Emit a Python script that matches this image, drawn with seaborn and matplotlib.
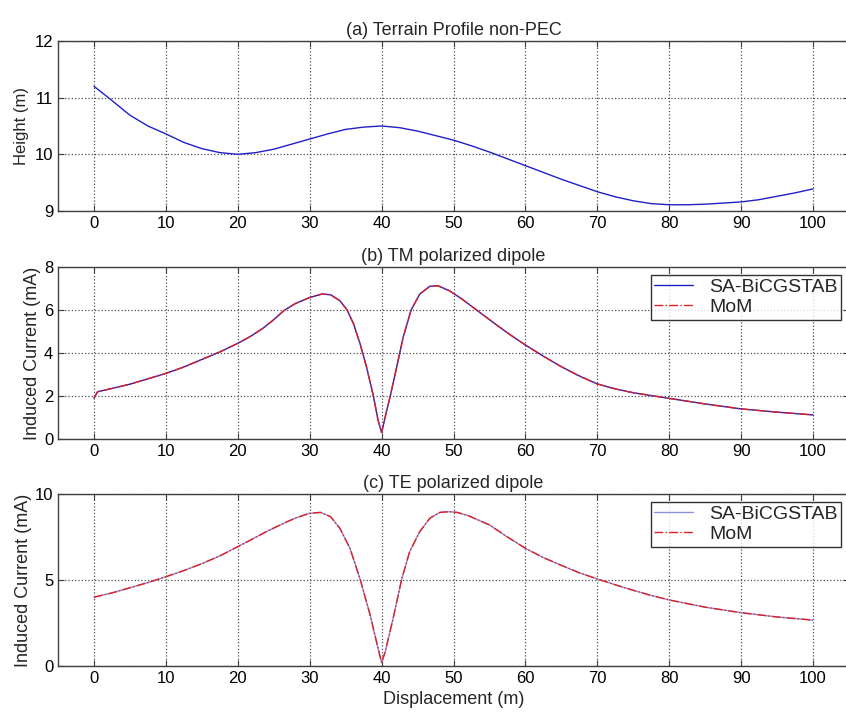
import pandas as pd
import matplotlib
matplotlib.use("Agg")
import matplotlib.pyplot as plt
import seaborn as sns

# --- dados ---
x_terreno = [0, 2, 5, 7.5, 10, 12.5, 15, 17.5, 20, 22.5, 25, 27.5, 30, 32.5, 35, 37.5, 40,
             42.5, 45, 47.5, 50, 52.5, 55, 57.5, 60, 62.5, 65, 67.5, 70, 72.5, 75, 77.5, 80,
             82.5, 85, 87.5, 90, 92.5, 95, 97.5, 100]
altura = [11.2, 11.0, 10.69, 10.5, 10.36, 10.21, 10.1, 10.03, 10.0, 10.03, 10.09, 10.18,
          10.27, 10.36, 10.44, 10.48, 10.5, 10.47, 10.41, 10.33, 10.25, 10.15, 10.04, 9.92,
          9.8, 9.68, 9.56, 9.45, 9.34, 9.25, 9.18, 9.13, 9.11, 9.11, 9.12, 9.14, 9.16, 9.2,
          9.26, 9.32, 9.39]

x_tm = [0, 0.5, 2.5, 5, 7.5, 10, 12.5, 15, 17.5, 20, 21.8, 23.5, 25, 26.4, 28, 30, 31.7,
        32.9, 34.2, 35.2, 36.1, 37, 37.9, 38.85, 39.5, 40, 40.5, 41.2, 42.1, 43, 44.1, 45.3,
        46.7, 47.8, 49.4, 51, 53.2, 56, 58, 60, 62.5, 65, 67.5, 70, 72.5, 75, 80, 85, 90, 95,
        100]
tm_bicg = [1.9, 2.2, 2.35, 2.55, 2.8, 3.05, 3.35, 3.7, 4.05, 4.45, 4.78, 5.15, 5.55, 5.97,
           6.3, 6.58, 6.74, 6.71, 6.43, 6.0, 5.35, 4.43, 3.35, 2.0, 0.88, 0.3, 1.03, 2.0,
           3.35, 4.74, 6.0, 6.74, 7.1, 7.13, 6.9, 6.55, 6.0, 5.3, 4.82, 4.37, 3.85, 3.36,
           2.93, 2.56, 2.33, 2.15, 1.89, 1.63, 1.4, 1.25, 1.12]
tm_mom = list(tm_bicg)

x_te = [0, 2.5, 5, 7.5, 10, 12.5, 15, 17.5, 20, 21.8, 24, 26.4, 28, 30, 31.5, 32.9, 34.2,
        35.6, 37, 38.4, 39.5, 40, 40.5, 41.6, 42.8, 43.9, 45.3, 46.7, 48.1, 49.4, 50.5, 52,
        55, 57.5, 60, 62.5, 65, 67.5, 70, 72.5, 75, 77.5, 80, 85, 90, 95, 100]
te_bicg = [4.0, 4.25, 4.55, 4.85, 5.19, 5.55, 5.95, 6.4, 6.94, 7.33, 7.82, 8.3, 8.6, 8.88,
           8.93, 8.68, 8.0, 6.84, 5.06, 2.97, 1.03, 0.2, 0.83, 2.77, 5.06, 6.65, 7.81, 8.59,
           8.93, 8.97, 8.93, 8.75, 8.2, 7.5, 6.84, 6.3, 5.85, 5.42, 5.06, 4.72, 4.4, 4.1, 3.84,
           3.42, 3.1, 2.85, 2.67]
te_mom = list(te_bicg)

xticks = list(range(0, 101, 10))

# --- estilo (tipo MATLAB) ---
sns.set_style("whitegrid")
plt.rcParams.update({
    "font.family": ["Liberation Sans", "DejaVu Sans"],
    "axes.edgecolor": "#404040",
    "axes.linewidth": 1.0,
    "grid.color": "#505050",
    "grid.linestyle": ":",
    "grid.linewidth": 0.9,
    "xtick.direction": "in",
    "ytick.direction": "in",
    "xtick.bottom": True,
    "ytick.left": True,
    "xtick.top": True,
    "ytick.right": True,
    "xtick.major.size": 4,
    "ytick.major.size": 4,
    "xtick.color": "#404040",
    "ytick.color": "#404040",
    "xtick.labelcolor": "black",
    "ytick.labelcolor": "black",
    "xtick.labelsize": 12,
    "ytick.labelsize": 12,
})

fig = plt.figure(figsize=(8.46, 7.15), dpi=100)
ax_a = fig.add_axes([0.0686, 0.7049, 0.935, 0.2378])
ax_b = fig.add_axes([0.0686, 0.386, 0.935, 0.2406])
ax_c = fig.add_axes([0.0686, 0.0685, 0.935, 0.2406])

# (a) perfil do terreno
df_a = pd.DataFrame({"x": x_terreno, "y": altura})
sns.lineplot(data=df_a, x="x", y="y", ax=ax_a, color="#2020c8", linewidth=1.0)
ax_a.set_ylim(9, 12)
ax_a.set_yticks([9, 10, 11, 12])
ax_a.set_ylabel("Height (m)", fontsize=12)
ax_a.set_title("(a) Terrain Profile non-PEC", fontsize=13, pad=4)


def painel(ax, xs, s1, s2, ylim, yticks, titulo, solid_color):
    df = pd.DataFrame({"x": xs + xs, "y": s1 + s2,
                       "serie": ["SA-BiCGSTAB"] * len(xs) + ["MoM"] * len(xs)})
    sns.lineplot(data=df[df.serie == "SA-BiCGSTAB"], x="x", y="y", ax=ax,
                 color=solid_color, linewidth=1.0, label="SA-BiCGSTAB")
    sns.lineplot(data=df[df.serie == "MoM"], x="x", y="y", ax=ax,
                 color="#e02020", linewidth=1.0, linestyle="-.", label="MoM")
    ax.set_ylim(*ylim)
    ax.set_yticks(yticks)
    ax.set_ylabel("Induced Current (mA)", fontsize=13, labelpad=2)
    ax.set_title(titulo, fontsize=13, pad=4)
    leg = ax.legend(loc="upper right", fontsize=14, frameon=True, fancybox=False,
                    borderaxespad=0.4, handlelength=2.0, borderpad=0.2,
                    labelspacing=0.1, handletextpad=0.8)
    leg.get_frame().set_edgecolor("black")
    leg.get_frame().set_linewidth(1.0)


painel(ax_b, x_tm, tm_bicg, tm_mom, (0, 8), [0, 2, 4, 6, 8],
       "(b) TM polarized dipole", "#2020c8")
painel(ax_c, x_te, te_bicg, te_mom, (0, 10), [0, 5, 10],
       "(c) TE polarized dipole", "#9090e0")

for ax in (ax_a, ax_b, ax_c):
    ax.set_xlim(-5, 105)
    ax.set_xticks(xticks)
    ax.set_xlabel("")
    ax.grid(True)
    for s in ax.spines.values():
        s.set_visible(True)

ax_c.set_xlabel("Displacement (m)", fontsize=13, labelpad=4)

fig.savefig("out.png", dpi=100)
plt.close(fig)
